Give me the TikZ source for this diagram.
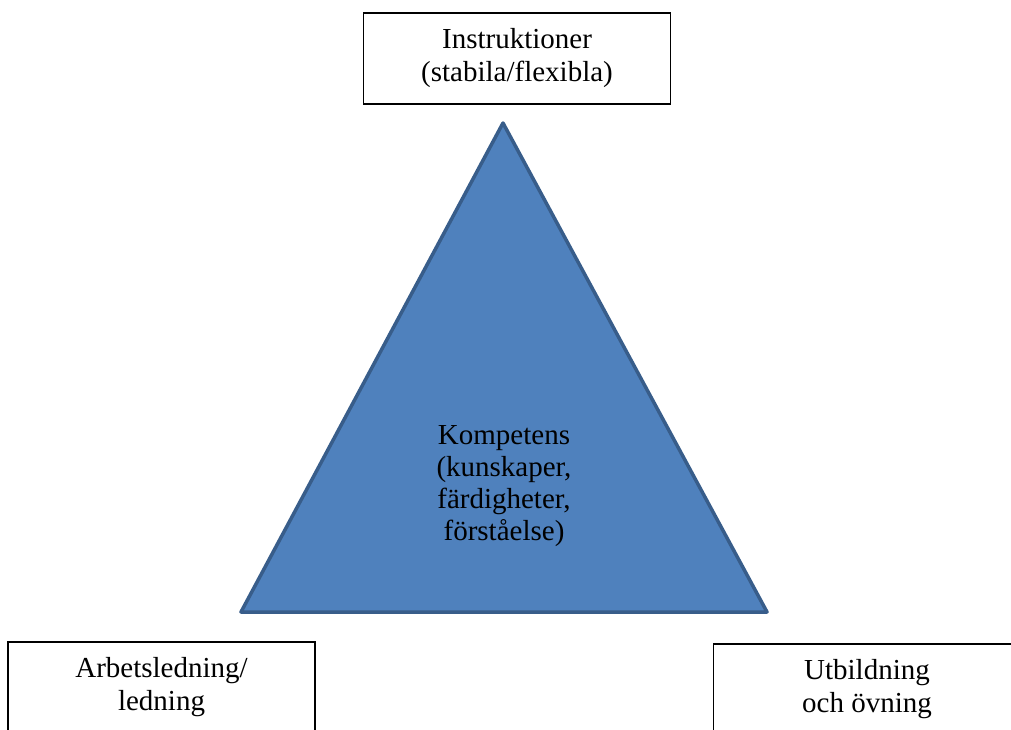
\documentclass[tikz,border=0pt]{standalone}
\usepackage{fontspec}
\setmainfont{Liberation Serif}
\definecolor{triFill}{HTML}{4F81BD}
\definecolor{triEdge}{HTML}{385D8A}
\begin{document}
\begin{tikzpicture}[x=1pt,y=-1pt,
  ruta/.style={draw=black,fill=white,line width=1.5pt,minimum width=307pt,
    minimum height=91pt,inner sep=0pt,align=center,
    font=\fontsize{29}{33}\selectfont},
  mitt/.style={align=center,inner sep=0pt,font=\fontsize{29}{32}\selectfont}]
  \useasboundingbox (0,0) rectangle (1011,729);
  \clip (0,0) rectangle (1011,729);
  \fill[white] (0,0) rectangle (1011,729);
  % triangeln
  \draw[triEdge,fill=triFill,line width=3.5pt,line join=round]
    (503,123) -- (767,612) -- (241,612) -- cycle;
  \node[mitt] (komp) at (504,486) {Kompetens\\(kunskaper,\\färdigheter,\\förståelse)};
  % rutorna
  \node[ruta] (instr) at (517,58.5) {Instruktioner\\(stabila/flexibla)};
  \node[ruta] (ledn) at (161.5,687.5) {Arbetsledning/\\ledning};
  \node[ruta] (utb) at (867,689.5) {Utbildning\\och övning};
\end{tikzpicture}
\end{document}
